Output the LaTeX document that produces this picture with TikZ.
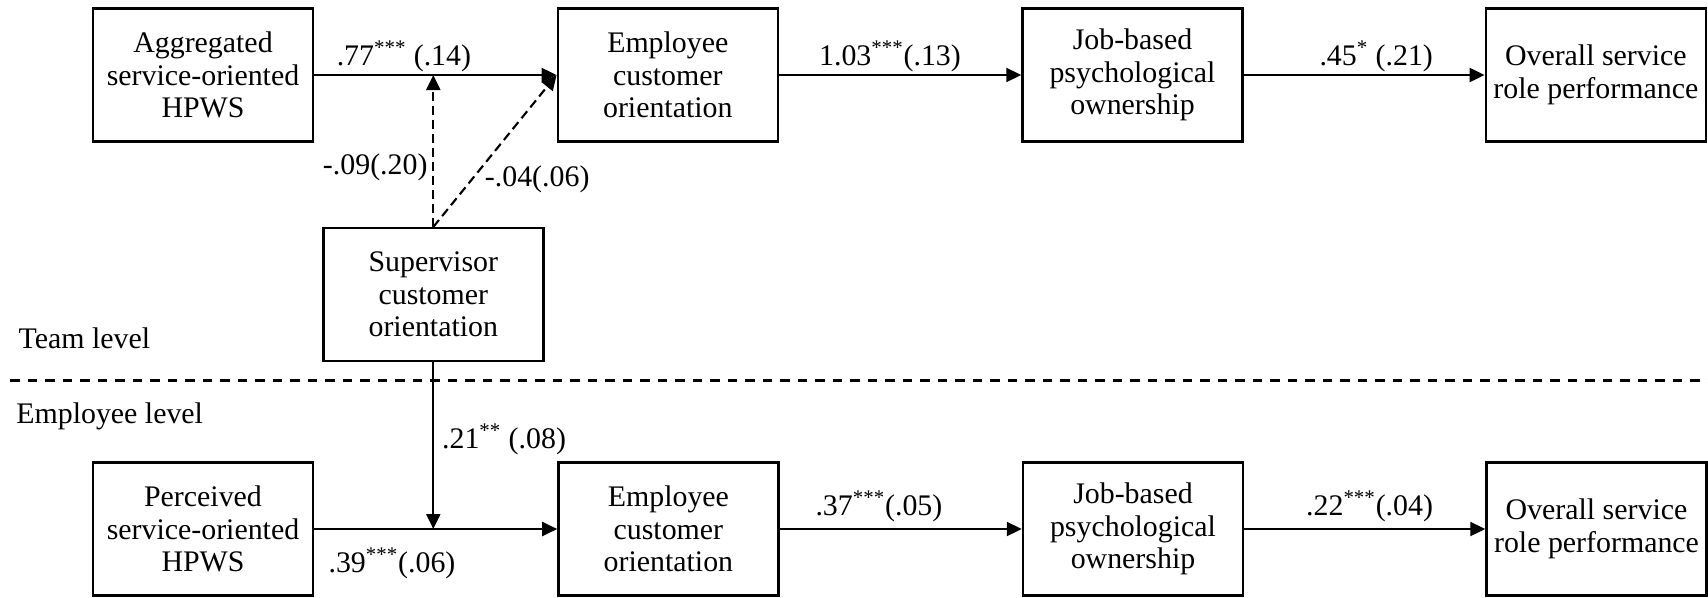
\documentclass[tikz,border=0pt]{standalone}
\usepackage{fontspec}
\setmainfont{Liberation Serif}
\usetikzlibrary{arrows.meta}

\begin{document}
\begin{tikzpicture}[
  every node/.style={font=\fontsize{17}{18.5}\selectfont},
  var/.style={draw,line width=1.4pt,minimum width=4.4cm,minimum height=2.66cm,align=center,inner sep=0pt},
  link/.style={line width=1.2pt,-{Triangle[length=0.3cm,width=0.28cm]}},
  moder/.style={link,dash pattern=on 0.18cm off 0.1cm},
  coef/.style={inner sep=1pt},
  level/.style={anchor=base west,inner sep=0pt}
]
\clip (0,0) rectangle (34.160,11.940);
\node[var] (AH) at (4.060,10.440) {Aggregated\\service-oriented\\HPWS};
\node[var] (ECt) at (13.356,10.440) {Employee\\customer\\orientation};
\node[var] (JPt) at (22.650,10.440) {Job-based\\psychological\\ownership};
\node[var] (OSt) at (31.916,10.440) {Overall service\\role performance};
\node[var] (SCO) at (8.666,6.046) {Supervisor\\customer\\orientation};
\node[var] (PH) at (4.060,1.360) {Perceived\\service-oriented\\HPWS};
\node[var] (ECb) at (13.368,1.360) {Employee\\customer\\orientation};
\node[var] (JPb) at (22.660,1.360) {Job-based\\psychological\\ownership};
\node[var] (OSb) at (31.930,1.360) {Overall service\\role performance};
\node[level] (team) at (0.366,4.974) {Team level};
\node[level] (emp) at (0.320,3.474) {Employee level};
\coordinate (m1) at (SCO.north |- AH.east);
\coordinate (m2) at (SCO.south |- PH.east);
\draw[line width=1.5pt,dash pattern=on 0.19cm off 0.16cm] (0.200,4.326) -- (34.160,4.326);
\draw[link] (AH) -- node[coef,above,pos=0.37] {.77\textsuperscript{***} (.14)} (ECt);
\draw[link] (ECt) -- node[coef,above,pos=0.458] {1.03\textsuperscript{***}(.13)} (JPt);
\draw[link] (JPt) -- node[coef,above,pos=0.55] {.45\textsuperscript{*} (.21)} (OSt);
\draw[moder] (SCO.north) -- node[coef,left=0.06cm,pos=0.39] {-.09(.20)} (m1);
\draw[moder] (SCO.north) -- node[coef,right=0.2cm,pos=0.315] {-.04(.06)} (ECt.west);
\draw[link] (SCO.south) -- node[coef,right=0.12cm,pos=0.46] {.21\textsuperscript{**} (.08)} (m2);
\draw[link] (PH) -- node[coef,below=0.32cm,pos=0.32] {.39\textsuperscript{***}(.06)} (ECb);
\draw[link] (ECb) -- node[coef,above=0.08cm,pos=0.41] {.37\textsuperscript{***}(.05)} (JPb);
\draw[link] (JPb) -- node[coef,above=0.08cm,pos=0.52] {.22\textsuperscript{***}(.04)} (OSb);
\end{tikzpicture}
\end{document}
